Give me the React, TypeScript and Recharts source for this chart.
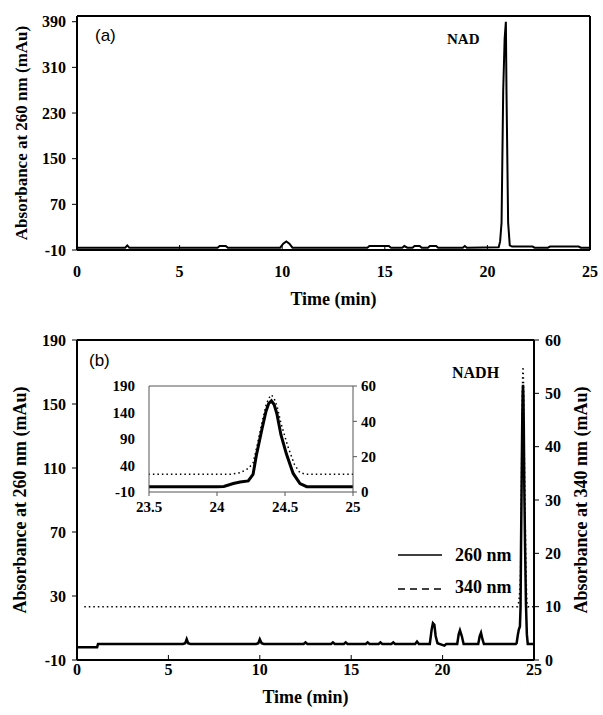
import { LineChart, Line, XAxis, YAxis, Legend } from 'recharts'

const SERIF = '"Liberation Serif", "Times New Roman", serif'
const SANS = '"Liberation Sans", Arial, sans-serif'

// (a) NAD standard, absorbance at 260 nm
const nadTime = [
  0, 2.35, 2.45, 2.55, 2.65, 6.85, 6.95, 7.25, 7.35, 9.9,
  10.05, 10.2, 10.35, 10.5, 14.15, 14.25, 15.2, 15.3, 15.85, 15.95,
  16.1, 16.35, 16.45, 16.7, 16.8, 17.1, 17.2, 17.5, 17.6, 18.8,
  18.9, 19.0, 20.55, 20.62, 20.69, 20.77, 20.84, 20.9, 20.93, 21.01,
  21.09, 21.2, 22.2, 22.3, 22.95, 23.05, 24.45, 24.55, 25,
]
const nadAbs = [
  -6, -6, -2, -6, -6, -6, -3, -3, -6, -6,
  1, 5, 1, -6, -6, -3, -3, -6, -6, -3,
  -6, -6, -3, -3, -6, -6, -3, -3, -6, -6,
  -3, -6, -5, 5, 38, 269, 360, 390, 269, 38,
  -2, -4, -4, -6, -6, -4, -4, -6, -6,
]

// (b) NADH, 260 nm trace
const nadhTime260 = [
  0, 1.1, 1.15, 5.8, 5.92, 6.0, 6.08, 6.2, 9.8, 9.92,
  10.0, 10.1, 10.22, 12.4, 12.5, 12.6, 13.9, 14.0, 14.1, 14.6,
  14.7, 14.8, 15.8, 15.9, 16.0, 16.5, 16.6, 16.7, 17.2, 17.3,
  17.4, 18.5, 18.6, 18.7, 19.3, 19.4, 19.47, 19.55, 19.62, 19.72,
  20.1, 20.2, 20.8, 20.88, 20.95, 21.05, 21.15, 21.95, 22.03, 22.1,
  22.18, 22.26, 23.5, 24.0, 24.05, 24.12, 24.17, 24.23, 24.265, 24.29,
  24.33, 24.36, 24.38, 24.4, 24.42, 24.44, 24.47, 24.51, 24.56, 24.61,
  24.66, 25,
]
const nadhAbs260 = [
  -2, -2, 0, 0, 0.5, 3, 0.5, 0, 0, 0.5,
  3, 0.5, 0, 0, 1, 0, 0, 1, 0, 0,
  1, 0, 0, 1, 0, 0, 1, 0, 0, 1,
  0, 0, 1.5, 0, 0, 9, 13, 12, 5, 0.5,
  -1, 0, 0, 6, 8.5, 5, 0, 0, 5, 7,
  3, 0, 0, 0, 0.5, 6, 9, 11, 23, 60,
  108, 142, 157, 162, 155, 138, 98, 62, 25, 6,
  0, 0,
]

// (b) NADH, 340 nm trace
const nadhTime340 = [0.4, 24.1, 24.17, 24.23, 24.265, 24.29, 24.33, 24.36, 24.38, 24.4, 24.42, 24.44, 24.47, 24.52, 24.57, 24.61, 24.66, 25]
const nadhAbs340 = [10, 10, 10.9, 13.3, 16.4, 24.5, 39, 49, 53, 55, 53, 49, 39, 26, 15.5, 10.9, 10, 10]

const timeTicks = [0, 5, 10, 15, 20, 25]
const absTicksA = [-10, 70, 150, 230, 310, 390]
const absTicksB = [-10, 30, 70, 110, 150, 190]
const absTicksB340 = [0, 10, 20, 30, 40, 50, 60]
const insetTimeTicks = [23.5, 24, 24.5, 25]
const insetAbsTicks = [-10, 40, 90, 140, 190]
const insetAbsTicks340 = [0, 20, 40, 60]

const nadRows = nadTime.map((t, i) => ({ t, v: nadAbs[i] }))
const rows260 = nadhTime260.map((t, i) => ({ t, v: nadhAbs260[i] }))
const rows340 = nadhTime340.map((t, i) => ({ t, v: nadhAbs340[i] }))

const frame = { stroke: '#000', strokeWidth: 2 }
const insetFrame = { stroke: '#555', strokeWidth: 1 }
const tickFont = { fill: '#000', fontSize: 16, fontWeight: 'bold', fontFamily: SERIF }
const insetTickFont = { ...tickFont, fontSize: 15 }
const titleStyle = { textAnchor: 'middle', fontSize: 18, fontWeight: 'bold', fontFamily: SERIF, fill: '#000' } as const

function WaveLegend() {
  return (
    <svg width={130} height={60} style={{ display: 'block' }}>
      <line x1={0} x2={44} y1={10} y2={10} stroke="#000" strokeWidth={1.5} />
      <text x={57} y={10} dominantBaseline="central" fontSize={18} fontWeight="bold" fontFamily={SERIF}>260 nm</text>
      <line x1={0} x2={44} y1={44} y2={44} stroke="#000" strokeWidth={1.5} strokeDasharray="7 5" />
      <text x={57} y={42} dominantBaseline="central" fontSize={18} fontWeight="bold" fontFamily={SERIF}>340 nm</text>
    </svg>
  )
}

export default function App() {
  return (
    <div style={{ position: 'absolute', left: 0, top: 0, width: 603, height: 715, background: '#fff' }}>
      {/* (a) NAD */}
      <div style={{ position: 'absolute', left: 0, top: 0 }}>
        <LineChart width={603} height={320} data={nadRows} margin={{ top: 15, right: 12, bottom: 40, left: 0 }}>
          <XAxis xAxisId="top" orientation="top" dataKey="t" type="number" domain={[0, 25]} height={1} tick={false} tickLine={false} axisLine={frame} />
          <XAxis
            dataKey="t" type="number" domain={[0, 25]} ticks={timeTicks} interval={0} height={30}
            axisLine={frame} tickLine={{ stroke: '#000' }} tickSize={-5} tickMargin={21} tick={tickFont}
            label={{ value: 'Time (min)', position: 'bottom', offset: 12, style: titleStyle }}
          />
          <YAxis
            type="number" domain={[-10, 400]} ticks={absTicksA} interval={0} width={77}
            axisLine={frame} tickLine={{ stroke: '#000' }} tickSize={5} tickMargin={6} tick={tickFont}
            label={{ value: 'Absorbance at 260 nm (mAu)', angle: -90, position: 'insideLeft', offset: 21, style: { ...titleStyle, fontSize: 17 } }}
          />
          <YAxis yAxisId="frame" orientation="right" type="number" domain={[-10, 400]} width={1} tick={false} tickLine={false} axisLine={frame} />
          <Line type="linear" dataKey="v" stroke="#000" strokeWidth={2} dot={false} isAnimationActive={false} />
        </LineChart>
      </div>

      {/* (b) NADH */}
      <div style={{ position: 'absolute', left: 0, top: 320 }}>
        <LineChart width={603} height={395} margin={{ top: 19, right: 0, bottom: 25, left: 0 }}>
          <XAxis xAxisId="top" orientation="top" dataKey="t" type="number" domain={[0, 25]} height={1} tick={false} tickLine={false} axisLine={frame} />
          <XAxis
            dataKey="t" type="number" domain={[0, 25]} ticks={timeTicks} interval={0} height={30}
            axisLine={frame} tickLine={{ stroke: '#000' }} tickSize={-5} tickMargin={9} tick={tickFont}
            label={{ value: 'Time (min)', position: 'bottom', offset: 0, style: titleStyle }}
          />
          <YAxis
            yAxisId="left" type="number" domain={[-10, 190]} ticks={absTicksB} interval={0} width={77}
            axisLine={frame} tickLine={{ stroke: '#000' }} tickSize={5} tickMargin={6} tick={tickFont}
            label={{ value: 'Absorbance at 260 nm (mAu)', angle: -90, position: 'insideLeft', offset: 20, style: titleStyle }}
          />
          <YAxis
            yAxisId="right" orientation="right" type="number" domain={[0, 60]} ticks={absTicksB340} interval={0} width={69}
            axisLine={frame} tickLine={{ stroke: '#000' }} tickSize={5} tickMargin={6} tick={tickFont}
            label={{ value: 'Absorbance at 340 nm (mAu)', angle: -90, position: 'insideRight', offset: 22, style: titleStyle }}
          />
          <Line data={rows340} yAxisId="right" type="linear" dataKey="v" stroke="#000" strokeWidth={1.5} strokeDasharray="1.5 3" dot={false} isAnimationActive={false} />
          <Line data={rows260} yAxisId="left" type="linear" dataKey="v" stroke="#000" strokeWidth={2.5} dot={false} isAnimationActive={false} />
          <Legend
            layout="horizontal" verticalAlign="middle" align="center"
            content={() => <WaveLegend />}
            wrapperStyle={{ position: 'absolute', left: 398, top: 225, width: 130 }}
          />
        </LineChart>
      </div>

      {/* inset: 23.5–25 min */}
      <div style={{ position: 'absolute', left: 100, top: 376 }}>
        <LineChart width={293} height={146} margin={{ top: 9, right: 0, bottom: 0, left: 0 }}>
          <XAxis xAxisId="top" orientation="top" dataKey="t" type="number" domain={[23.5, 25]} allowDataOverflow height={1} tick={false} tickLine={false} axisLine={insetFrame} />
          <XAxis
            dataKey="t" type="number" domain={[23.5, 25]} allowDataOverflow ticks={insetTimeTicks} interval={0} height={30}
            axisLine={insetFrame} tickLine={insetFrame} tickSize={4} tickMargin={5} tick={insetTickFont}
          />
          <YAxis
            yAxisId="left" type="number" domain={[-10, 190]} allowDataOverflow ticks={insetAbsTicks} interval={0} width={49}
            axisLine={insetFrame} tickLine={false} tickMargin={8} tick={insetTickFont}
          />
          <YAxis
            yAxisId="right" orientation="right" type="number" domain={[0, 60]} allowDataOverflow ticks={insetAbsTicks340} interval={0} width={40}
            axisLine={insetFrame} tickLine={insetFrame} tickSize={4} tickMargin={4} tick={insetTickFont}
          />
          <Line data={rows340} yAxisId="right" type="linear" dataKey="v" stroke="#000" strokeWidth={1.5} strokeDasharray="1.5 3" dot={false} isAnimationActive={false} />
          <Line data={rows260} yAxisId="left" type="linear" dataKey="v" stroke="#000" strokeWidth={3} dot={false} isAnimationActive={false} />
        </LineChart>
      </div>

      {/* panel tags and peak names */}
      <svg width={603} height={715} style={{ position: 'absolute', left: 0, top: 0, pointerEvents: 'none' }}>
        <text x={95} y={35} dominantBaseline="central" fontSize={17} fontFamily={SANS}>(a)</text>
        <text x={447} y={39} dominantBaseline="central" fontSize={15} fontWeight="bold" fontFamily={SERIF}>NAD</text>
        <text x={89} y={360} dominantBaseline="central" fontSize={17} fontFamily={SANS}>(b)</text>
        <text x={452} y={372} dominantBaseline="central" fontSize={16} fontWeight="bold" fontFamily={SERIF}>NADH</text>
      </svg>
    </div>
  )
}
